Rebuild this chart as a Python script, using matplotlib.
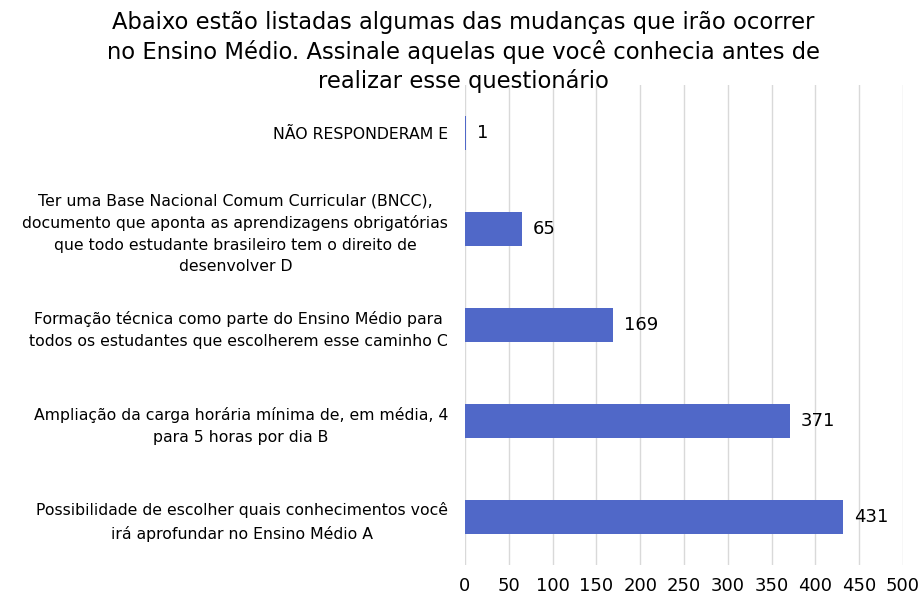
import matplotlib.pyplot as plt

plt.rcParams['font.family'] = ['DejaVu Sans']

categories = [
    'Possibilidade de escolher quais conhecimentos você\nirá aprofundar no Ensino Médio A',
    'Ampliação da carga horária mínima de, em média, 4\npara 5 horas por dia B',
    'Formação técnica como parte do Ensino Médio para\ntodos os estudantes que escolherem esse caminho C',
    'Ter uma Base Nacional Comum Curricular (BNCC),\ndocumento que aponta as aprendizagens obrigatórias\nque todo estudante brasileiro tem o direito de\ndesenvolver D',
    'NÃO RESPONDERAM E',
]
values = [431, 371, 169, 65, 1]
xticks = [0, 50, 100, 150, 200, 250, 300, 350, 400, 450, 500]

title = ('Abaixo estão listadas algumas das mudanças que irão ocorrer\n'
         'no Ensino Médio. Assinale aquelas que você conhecia antes de\n'
         'realizar esse questionário')

fig = plt.figure(figsize=(9.2, 6.02), dpi=100)
ax = fig.add_axes([0.5054, 0.0615, 0.4761, 0.7973])

pos = range(len(values))
ax.barh(pos, values, height=0.35, color='#5068C8', zorder=3)
ax.set_ylim(-0.5, len(values) - 0.5)
ax.set_xlim(0, 500)
ax.set_xticks(xticks)
ax.set_yticks(list(pos))
ax.set_yticklabels(categories, multialignment='center', fontsize=11.3,
                   linespacing=1.55)
ax.tick_params(axis='y', length=0, pad=12)
ax.tick_params(axis='x', length=0, pad=9, labelsize=13)
ax.grid(axis='x', color='#D9D9D9', linewidth=1, zorder=0)
for s in ax.spines.values():
    s.set_visible(False)

for p, v in zip(pos, values):
    ax.annotate(str(v), (v, p), xytext=(8, 0), textcoords='offset points',
                va='center', ha='left', fontsize=13)

fig.text(0.504, 0.982, title, ha='center', va='top', fontsize=16.3,
         linespacing=1.3)

fig.savefig('out.png')
